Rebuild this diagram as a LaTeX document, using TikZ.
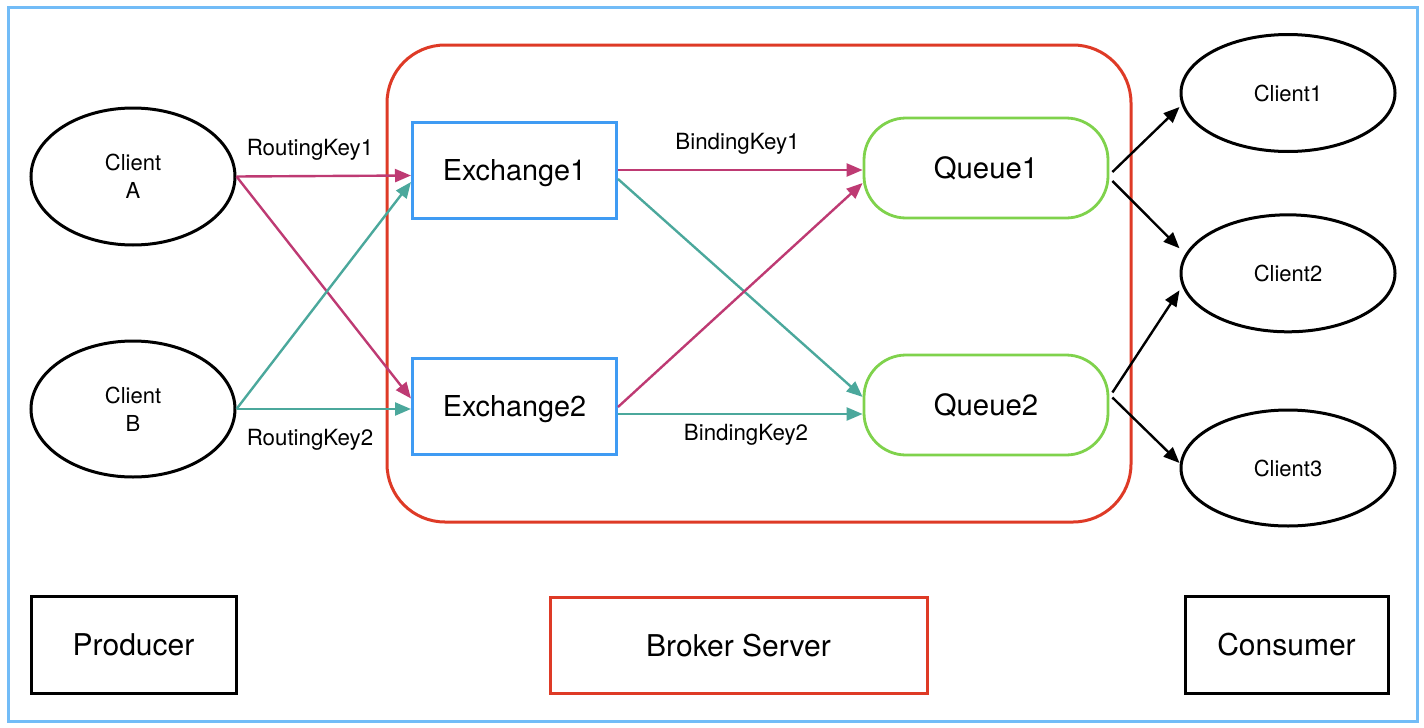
\documentclass[tikz,border=0pt]{standalone}
\usepackage{fontspec}
\setmainfont{TeX Gyre Heros}
\usetikzlibrary{shapes.geometric,arrows.meta}
\definecolor{outerblue}{HTML}{72BCF7}
\definecolor{exblue}{HTML}{3F9BF3}
\definecolor{brokerred}{HTML}{DE3A26}
\definecolor{qgreen}{HTML}{7FD24C}
\definecolor{rkpink}{HTML}{BE3A73}
\definecolor{rkteal}{HTML}{4BA89C}
\begin{document}
\begin{tikzpicture}[x=1pt,y=-1pt,
  client/.style={ellipse,draw=black,line width=3pt,inner sep=0pt,minimum width=204pt,
    font=\fontsize{22}{28}\selectfont,align=center,text depth=0pt},
  rclient/.style={client,minimum width=214pt,minimum height=117pt},
  exbox/.style={rectangle,draw=exblue,line width=3pt,minimum width=204pt,minimum height=96pt,
    inner sep=0pt,font=\fontsize{28.8}{34}\selectfont,text depth=0pt},
  qbox/.style={rectangle,rounded corners=42pt,draw=qgreen,line width=2.8pt,minimum width=244pt,
    minimum height=100pt,inner sep=0pt,font=\fontsize{29.3}{34}\selectfont,text depth=0pt},
  role/.style={rectangle,line width=3pt,minimum height=97pt,inner sep=0pt,
    font=\fontsize{30}{36}\selectfont,text depth=0pt},
  lbl/.style={font=\fontsize{22.3}{26}\selectfont,anchor=base,inner sep=0pt},
  flow/.style={line width=2.4pt,-{Triangle[length=16pt,width=13pt]}},
]
\useasboundingbox (0,0) rectangle (1424,728);
% frames
\node[draw=outerblue,line width=3pt,minimum width=1409pt,minimum height=714pt,inner sep=0pt] (frame) at (712.5,364) {};
\node[draw=brokerred,line width=3pt,rounded corners=58pt,minimum width=744pt,minimum height=477pt,inner sep=0pt] (server) at (759,283.5) {};
% producers
\node[client,minimum height=137pt] (ca) at (133,176.5) {Client\\A};
\node[client,minimum height=136pt] (cb) at (133,409) {Client\\B};
% exchanges
\node[exbox] (ex1) at (514.5,170) {Exchange1};
\node[exbox] (ex2) at (514.5,406) {Exchange2};
% queues
\node[qbox] (q1) at (986,168) {Queue1};
\node[qbox] (q2) at (986,405) {Queue2};
% consumers
\node[rclient] (c1) at (1288,93) {Client1};
\node[rclient] (c2) at (1288,273.3) {Client2};
\node[rclient,minimum height=116pt] (c3) at (1288,468) {Client3};
% legend boxes
\node[role,draw=black,minimum width=205pt] (prod) at (133.5,644.5) {Producer};
\node[role,draw=brokerred,minimum width=377pt,minimum height=96pt] (broker) at (738.5,645) {Broker Server};
\node[role,draw=black,minimum width=203pt] (cons) at (1286.5,644.5) {Consumer};
% connectors producer -> exchange
\draw[flow,rkpink] (ca.east) -- ([yshift=-5.5pt]ex1.west);
\draw[flow,rkpink] (ca.east) -- ([yshift=7.5pt]ex2.west);
\draw[flow,rkteal] (cb.east) -- ([yshift=-12pt]ex1.west);
\draw[flow,rkteal] (cb.east) -- (cb.east -| ex2.west);
% exchange -> queue
\draw[flow,rkpink] (ex1.east) -- (ex1.east -| q1.west);
\draw[flow,rkteal] ([yshift=-9pt]ex1.east) -- ([yshift=8pt]q2.west);
\draw[flow,rkpink] ([yshift=-1pt]ex2.east) -- ([yshift=-15pt]q1.west);
\draw[flow,rkteal] ([yshift=-8pt]ex2.east) -- ([yshift=-8pt]ex2.east -| q2.west);
% queue -> consumer
\draw[flow,black] ([xshift=3pt,yshift=-4pt]q1.east) -- ([yshift=-14pt]c1.west);
\draw[flow,black] ([xshift=3pt,yshift=-13pt]q1.east) -- ([yshift=25pt]c2.west);
\draw[flow,black] ([xshift=3pt,yshift=12.5pt]q2.east) -- ([yshift=-17pt]c2.west);
\draw[flow,black] ([xshift=3pt,yshift=7.5pt]q2.east) -- ([yshift=5pt]c3.west);
% labels
\node[lbl] (rk1) at (310,155) {RoutingKey1};
\node[lbl] (rk2) at (310,445) {RoutingKey2};
\node[lbl] (bk1) at (737.5,149.3) {BindingKey1};
\node[lbl] (bk2) at (746,440.7) {BindingKey2};
\end{tikzpicture}
\end{document}
